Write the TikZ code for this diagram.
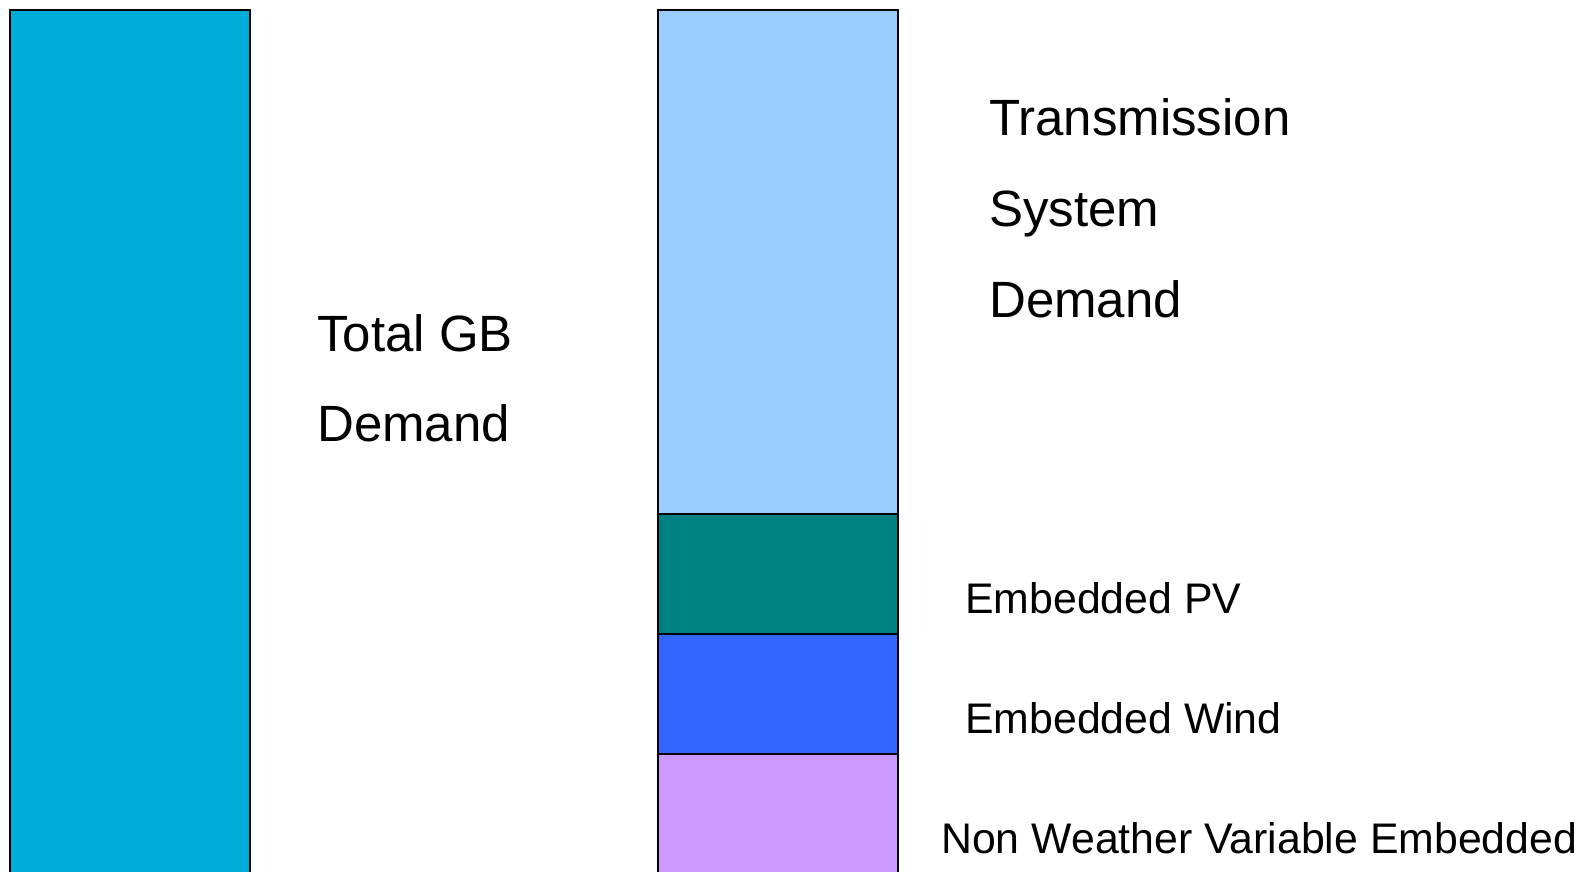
\documentclass[tikz,border=0pt]{standalone}
\usepackage{fontspec}
\setmainfont{Liberation Sans}
\definecolor{totalc}{RGB}{0,172,216}
\definecolor{tsdc}{RGB}{153,204,255}
\definecolor{pvc}{RGB}{0,128,128}
\definecolor{windc}{RGB}{51,102,255}
\definecolor{nwvc}{RGB}{204,153,255}
\tikzset{
  seg/.style={draw=black, line width=1.7pt},
  bigtxt/.style={anchor=base west, inner sep=0pt, font=\fontsize{51}{60}\selectfont},
  smalltxt/.style={anchor=base west, inner sep=0pt, font=\fontsize{42.8}{50}\selectfont}
}
\begin{document}
\begin{tikzpicture}[x=1pt,y=-1pt]
\useasboundingbox (0,0) rectangle (1591,871);
\clip (0,0) rectangle (1591,871);
% left bar
\draw[seg, fill=totalc] (10,10) rectangle (250,900);
% right stacked bar
\draw[seg, fill=tsdc] (658,10) rectangle (898,514);
\draw[seg, fill=pvc] (658,514) rectangle (898,634);
\draw[seg, fill=windc] (658,634) rectangle (898,754);
\draw[seg, fill=nwvc] (658,754) rectangle (898,900);
% labels
\node[bigtxt] (tgb1) at (317,351) {Total GB};
\node[bigtxt] (tgb2) at (317,441) {Demand};
\node[bigtxt] (tsd1) at (989,135) {Transmission};
\node[bigtxt] (tsd2) at (989,226) {System};
\node[bigtxt] (tsd3) at (989,317) {Demand};
\node[smalltxt] (pv) at (965,613) {Embedded PV};
\node[smalltxt] (wind) at (965,733) {Embedded Wind};
\node[smalltxt] (nwv) at (941,853) {Non Weather Variable Embedded};
\end{tikzpicture}
\end{document}
